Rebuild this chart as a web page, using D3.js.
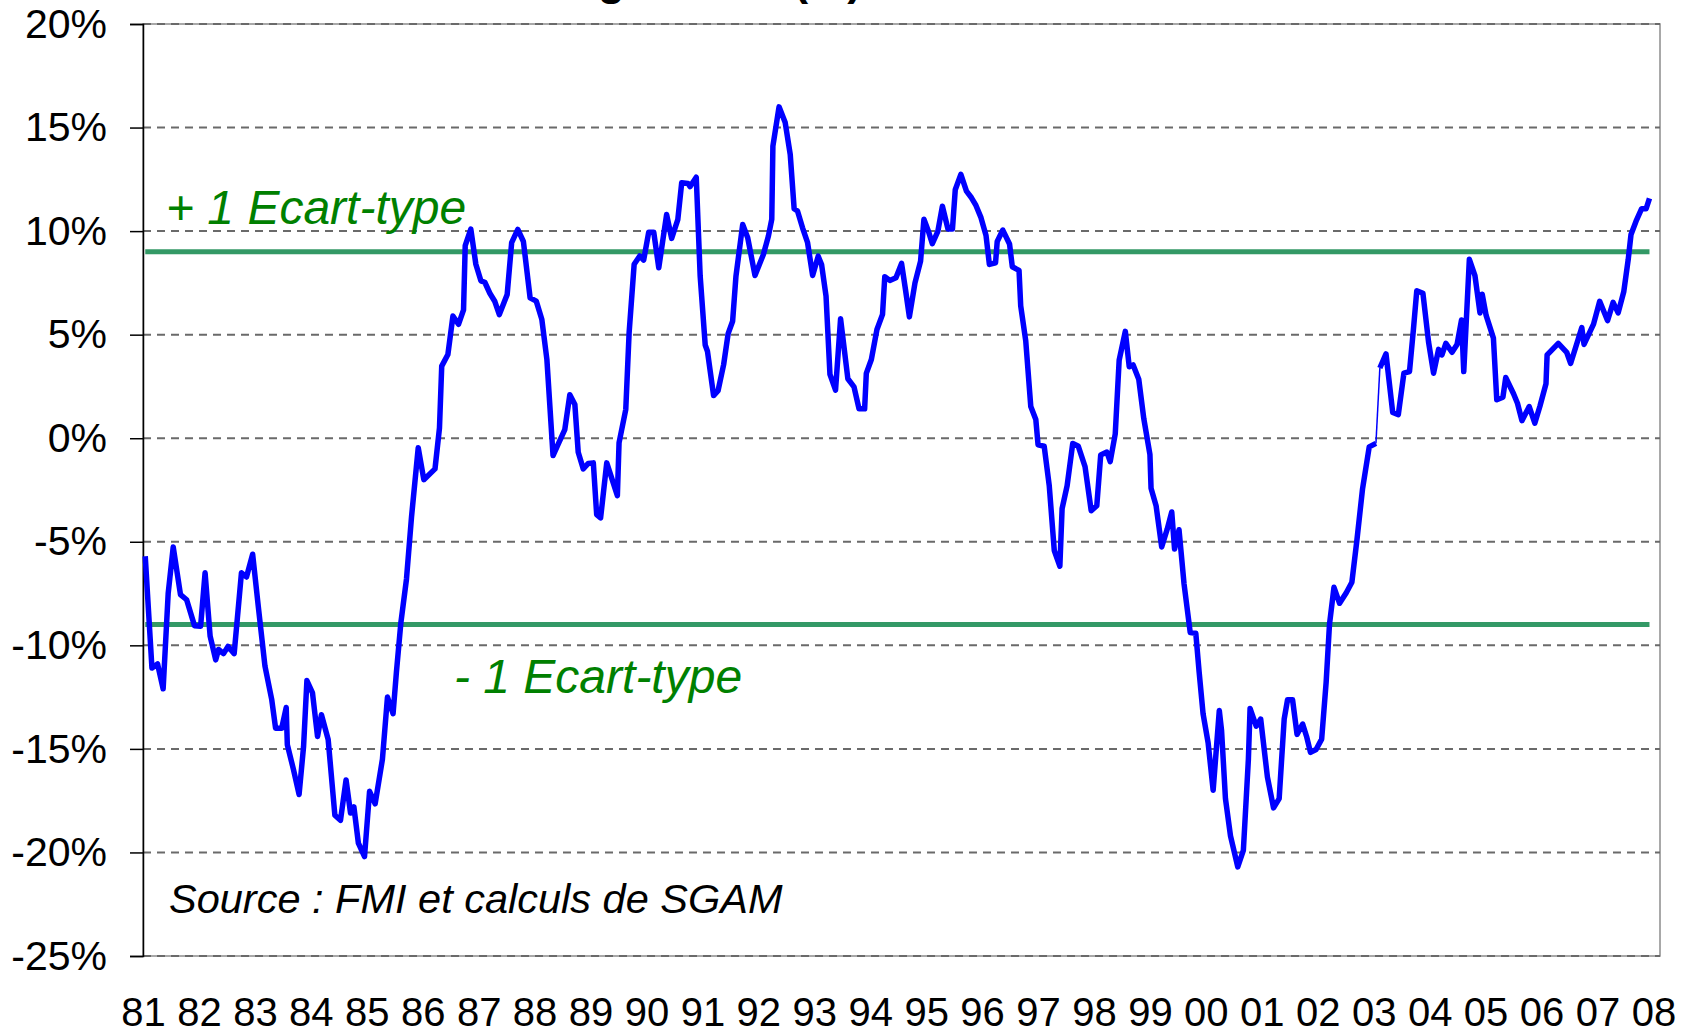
<!DOCTYPE html>
<html>
<head>
<meta charset="utf-8">
<script src="https://cdn.jsdelivr.net/npm/d3@7"></script>
<style>
body { margin: 0; background: #fff; }
svg { display: block; font-family: "Liberation Sans", Arial, sans-serif; }
</style>
</head>
<body>
<svg id="chart" width="1684" height="1036"></svg>
<script>
/*********************************************
    * Desalignement (%) et +/- 1 ecart-type
*********************************************/

// serie 1 : 1981 -> debut 2003 (annees decimales, valeurs en %)
var dates1 = [1981.04, 1981.16, 1981.26, 1981.36, 1981.45, 1981.54, 1981.67, 1981.78, 1981.92, 1982.03,
    1982.11, 1982.20, 1982.30, 1982.35, 1982.44, 1982.52, 1982.63, 1982.76, 1982.85, 1982.96,
    1983.06, 1983.18, 1983.30, 1983.37, 1983.48, 1983.56, 1983.58, 1983.69, 1983.79, 1983.87,
    1983.93, 1984.03, 1984.12, 1984.19, 1984.31, 1984.43, 1984.53, 1984.63, 1984.71, 1984.77,
    1984.85, 1984.96, 1985.05, 1985.15, 1985.28, 1985.37, 1985.47, 1985.53, 1985.61, 1985.71,
    1985.80, 1985.92, 1986.02, 1986.22, 1986.30, 1986.34, 1986.45, 1986.54, 1986.64, 1986.73,
    1986.76, 1986.86, 1986.95, 1987.04, 1987.11, 1987.20, 1987.29, 1987.37, 1987.51, 1987.59,
    1987.70, 1987.80, 1987.92, 1988.03, 1988.13, 1988.22, 1988.33, 1988.42, 1988.54, 1988.63,
    1988.72, 1988.78, 1988.87, 1988.96, 1989.05, 1989.11, 1989.18, 1989.29, 1989.48, 1989.51,
    1989.63, 1989.69, 1989.78, 1989.88, 1989.95, 1990.04, 1990.13, 1990.22, 1990.36, 1990.45,
    1990.56, 1990.63, 1990.74, 1990.78, 1990.89, 1990.96, 1991.05, 1991.09, 1991.20, 1991.28,
    1991.38, 1991.46, 1991.54, 1991.60, 1991.72, 1991.81, 1991.94, 1992.09, 1992.18, 1992.24,
    1992.26, 1992.37, 1992.48, 1992.57, 1992.64, 1992.70, 1992.79, 1992.88, 1992.97, 1993.07,
    1993.13, 1993.21, 1993.28, 1993.38, 1993.47, 1993.60, 1993.71, 1993.80, 1993.90, 1993.93,
    1994.02, 1994.12, 1994.22, 1994.26, 1994.35, 1994.46, 1994.56, 1994.63, 1994.70, 1994.80,
    1994.90, 1994.96, 1995.04, 1995.11, 1995.21, 1995.29, 1995.39, 1995.47, 1995.52, 1995.62,
    1995.72, 1995.81, 1995.89, 1995.98, 1996.07, 1996.13, 1996.24, 1996.27, 1996.37, 1996.49,
    1996.54, 1996.66, 1996.69, 1996.78, 1996.87, 1996.96, 1997.00, 1997.11, 1997.20, 1997.29,
    1997.39, 1997.43, 1997.52, 1997.62, 1997.72, 1997.84, 1997.95, 1998.05, 1998.12, 1998.23,
    1998.29, 1998.38, 1998.45, 1998.56, 1998.63, 1998.70, 1998.80, 1998.89, 1999.00, 1999.02,
    1999.11, 1999.21, 1999.31, 1999.39, 1999.44, 1999.52, 1999.61, 1999.72, 1999.82, 1999.88,
    1999.95, 2000.04, 2000.13, 2000.24, 2000.28, 2000.35, 2000.44, 2000.57, 2000.67, 2000.76,
    2000.79, 2000.90, 2000.98, 2001.10, 2001.21, 2001.31, 2001.40, 2001.46, 2001.55, 2001.63,
    2001.73, 2001.80, 2001.87, 2001.97, 2002.07, 2002.15, 2002.21, 2002.29, 2002.39, 2002.51,
    2002.61, 2002.70, 2002.80, 2002.92, 2003.04];
var values1 = [-5.7, -11.1, -10.9, -12.1, -7.5, -5.25, -7.55, -7.8, -9.05, -9.08,
    -6.5, -9.56, -10.7, -10.2, -10.4, -10.05, -10.4, -6.5, -6.7, -5.6,
    -8.1, -11.0, -12.6, -14.0, -14.0, -13.0, -14.8, -16.0, -17.2, -14.9,
    -11.7, -12.3, -14.4, -13.35, -14.55, -18.2, -18.45, -16.5, -18.1, -17.8,
    -19.55, -20.2, -17.05, -17.65, -15.5, -12.5, -13.3, -11.3, -8.9, -6.8,
    -3.8, -0.46, -2.0, -1.48, 0.5, 3.48, 4.04, 5.9, 5.5, 6.2,
    9.3, 10.1, 8.4, 7.6, 7.53, 7.0, 6.6, 5.97, 6.94, 9.44,
    10.08, 9.5, 6.78, 6.62, 5.73, 3.8, -0.84, -0.3, 0.42, 2.1,
    1.63, -0.68, -1.48, -1.22, -1.19, -3.69, -3.85, -1.19, -2.77, -0.22,
    1.39, 5.1, 8.4, 8.8, 8.6, 9.95, 9.95, 8.23, 10.8, 9.65,
    10.55, 12.34, 12.3, 12.15, 12.6, 7.83, 4.5, 4.2, 2.06, 2.3,
    3.56, 5.05, 5.65, 7.83, 10.32, 9.68, 7.86, 8.87, 9.76, 10.57,
    14.1, 16.0, 15.24, 13.7, 11.08, 10.97, 10.16, 9.44, 7.86, 8.79,
    8.39, 6.86, 3.08, 2.32, 5.77, 2.87, 2.48, 1.42, 1.42, 3.13,
    3.8, 5.25, 5.98, 7.8, 7.62, 7.75, 8.44, 7.18, 5.86, 7.5,
    8.55, 10.57, 10.0, 9.39, 10.0, 11.2, 10.1, 10.1, 12.0, 12.74,
    11.93, 11.61, 11.24, 10.65, 9.79, 8.39, 8.47, 9.5, 10.05, 9.38,
    8.28, 8.1, 6.39, 4.7, 1.53, 0.9, -0.32, -0.39, -2.29, -5.42,
    -6.18, -3.4, -2.29, -0.25, -0.39, -1.37, -3.5, -3.26, -0.81, -0.67,
    -1.13, 0.21, 3.77, 5.16, 3.45, 3.54, 2.85, 0.95, -0.79, -2.41,
    -3.26, -5.25, -4.38, -3.56, -5.35, -4.42, -7.04, -9.38, -9.42, -11.3,
    -13.3, -14.7, -17.0, -13.15, -14.1, -17.4, -19.2, -20.7, -19.9, -15.5,
    -13.05, -13.9, -13.56, -16.36, -17.85, -17.4, -13.56, -12.63, -12.63, -14.3,
    -13.8, -14.4, -15.17, -15.03, -14.53, -11.78, -8.98, -7.2, -7.97, -7.46,
    -6.95, -4.92, -2.46, -0.42, -0.25];

// serie 2 : 2003 -> fin 2007
var dates2 = [2003.11, 2003.22, 2003.34, 2003.44, 2003.54, 2003.64, 2003.71, 2003.77, 2003.88, 2003.98,
    2004.07, 2004.16, 2004.22, 2004.29, 2004.40, 2004.49, 2004.57, 2004.61, 2004.71, 2004.81,
    2004.90, 2004.94, 2005.01, 2005.14, 2005.20, 2005.31, 2005.36, 2005.50, 2005.57, 2005.65,
    2005.78, 2005.88, 2005.97, 2006.08, 2006.10, 2006.30, 2006.45, 2006.52, 2006.72, 2006.76,
    2006.93, 2007.04, 2007.18, 2007.28, 2007.37, 2007.47, 2007.55, 2007.60, 2007.69, 2007.79,
    2007.87, 2007.93];
var values2 = [3.39, 4.07, 1.24, 1.14, 3.14, 3.22, 5.25, 7.12, 7.0, 4.66,
    3.14, 4.29, 4.02, 4.58, 4.15, 4.53, 5.71, 3.22, 8.64, 7.85,
    6.05, 6.95, 5.93, 4.83, 1.86, 1.98, 2.93, 2.15, 1.69, 0.85,
    1.53, 0.73, 1.53, 2.63, 4.02, 4.58, 4.15, 3.61, 5.34, 4.53,
    5.51, 6.61, 5.68, 6.56, 6.05, 7.07, 8.63, 9.84, 10.48, 11.08,
    11.08, 11.58];

var ecartType = [9, -9];
var ecartLabels = ["+ 1 Ecart-type", "- 1 Ecart-type"];

var yTicks = [20, 15, 10, 5, 0, -5, -10, -15, -20, -25];
var xYears = [1981, 1982, 1983, 1984, 1985, 1986, 1987, 1988, 1989, 1990, 1991, 1992, 1993, 1994,
    1995, 1996, 1997, 1998, 1999, 2000, 2001, 2002, 2003, 2004, 2005, 2006, 2007, 2008];

var svg = d3.select("#chart"),
    margin = {top: 24, right: 24, bottom: 80, left: 143},
    width = +svg.attr("width") - margin.left - margin.right,
    height = +svg.attr("height") - margin.top - margin.bottom,
    g = svg.append("g").attr("transform", "translate(" + margin.left + "," + margin.top + ")");

var x = d3.scaleLinear()
    .domain([1981, 2008.118])
    .range([0, width]);

var y = d3.scaleLinear()
    .domain([-25, 20])
    .range([height, 0]);

var serie1 = dates1.map(function(d, i) { return {date: d, value: values1[i]}; });
var serie2 = dates2.map(function(d, i) { return {date: d, value: values2[i]}; });

// title (cut off at the top of the picture)
svg.append("text")
    .attr("x", 862)
    .attr("y", -5)
    .attr("text-anchor", "end")
    .attr("font-size", "44px")
    .attr("font-weight", "bold")
    .text("Désalignement (%)");

// plot area border
g.append("rect")
    .attr("width", width)
    .attr("height", height)
    .attr("fill", "none")
    .attr("stroke", "#8c8c8c")
    .attr("stroke-width", 1.5);

// gridlines
g.selectAll(".grid")
    .data(yTicks)
    .enter().append("line")
    .attr("class", "grid")
    .attr("x1", 0)
    .attr("x2", width)
    .attr("y1", function(d) { return y(d); })
    .attr("y2", function(d) { return y(d); })
    .attr("stroke", "#6a6a6a")
    .attr("stroke-width", 2)
    .attr("stroke-dasharray", "8,6");

//y-axis
var yAxis = g.append("g")
    .call(d3.axisLeft(y)
        .tickValues(yTicks)
        .tickSize(13)
        .tickPadding(23)
        .tickFormat(function(d) { return d + "%"; }));
yAxis.select(".domain").attr("stroke", "#000").attr("stroke-width", 1.5);
yAxis.selectAll(".tick line").attr("stroke", "#000").attr("stroke-width", 1.5);
yAxis.selectAll("text")
    .attr("font-size", "41px")
    .attr("font-family", "'Liberation Sans', Arial, sans-serif")
    .attr("fill", "#000");

//x-axis (labels only)
var xAxis = g.append("g")
    .attr("transform", "translate(0," + height + ")")
    .call(d3.axisBottom(x)
        .tickValues(xYears)
        .tickSize(0)
        .tickPadding(42)
        .tickFormat(function(d) { return String(d).slice(2); }));
xAxis.select(".domain").remove();
xAxis.selectAll("text")
    .attr("font-size", "40px")
    .attr("font-family", "'Liberation Sans', Arial, sans-serif")
    .attr("fill", "#000");

// +/- 1 ecart-type
g.selectAll(".ecart")
    .data(ecartType)
    .enter().append("line")
    .attr("class", "ecart")
    .attr("x1", x(dates1[0]))
    .attr("x2", x(dates2[dates2.length - 1]))
    .attr("y1", function(d) { return y(d); })
    .attr("y2", function(d) { return y(d); })
    .attr("stroke", "#339966")
    .attr("stroke-width", 5);

var line = d3.line()
    .x(function(d) { return x(d.date); })
    .y(function(d) { return y(d.value); });

// thin join between the two series
g.append("path")
    .datum([serie1[serie1.length - 1], serie2[0]])
    .attr("d", line)
    .attr("fill", "none")
    .attr("stroke", "#0000ff")
    .attr("stroke-width", 1.5);

g.selectAll(".serie")
    .data([serie1, serie2])
    .enter().append("path")
    .attr("class", "serie")
    .attr("d", line)
    .attr("fill", "none")
    .attr("stroke", "#0000ff")
    .attr("stroke-width", 5.5)
    .attr("stroke-linejoin", "round");

// labels
svg.append("text")
    .attr("x", 166)
    .attr("y", 224)
    .attr("font-size", "48px")
    .attr("font-style", "italic")
    .attr("fill", "#008000")
    .text(ecartLabels[0]);

svg.append("text")
    .attr("x", 454)
    .attr("y", 693)
    .attr("font-size", "48px")
    .attr("font-style", "italic")
    .attr("fill", "#008000")
    .text(ecartLabels[1]);

svg.append("text")
    .attr("x", 169)
    .attr("y", 913)
    .attr("font-size", "41.5px")
    .attr("font-style", "italic")
    .attr("fill", "#000")
    .text("Source : FMI et calculs de SGAM");
</script>
</body>
</html>
